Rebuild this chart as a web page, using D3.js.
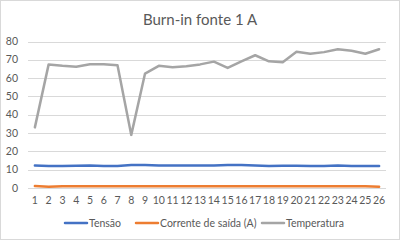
<!DOCTYPE html>
<html>
<head>
<meta charset="utf-8">
<script src="https://cdn.jsdelivr.net/npm/d3@7"></script>
<style>
  body { margin: 0; background: #fff; }
  text { font-family: Lato, "Open Sans", sans-serif; fill: #595959; }
</style>
</head>
<body>
<div id="chart"></div>
<script>
"use strict";

// categories 1..26
var categories = ["1","2","3","4","5","6","7","8","9","10","11","12","13","14","15","16","17","18","19","20","21","22","23","24","25","26"];
var tensao = [12.3,12.0,12.0,12.2,12.3,12.0,12.0,12.5,12.5,12.3,12.3,12.3,12.3,12.3,12.6,12.6,12.3,12.0,12.2,12.2,12.0,12.0,12.3,12.0,12.0,12.0];
var corrente = [1.1,0.7,1.0,1.0,1.0,1.0,1.0,1.0,1.0,1.0,1.0,1.0,1.0,1.0,1.0,1.0,1.0,1.0,1.0,1.0,1.0,1.0,1.0,1.0,1.0,0.7];
var temperatura = [33.1,67.5,66.7,66.2,67.6,67.6,67.0,29.0,62.5,66.7,66.0,66.5,67.5,69.0,65.6,69.2,72.5,69.2,68.7,74.4,73.3,74.2,75.8,75.0,73.3,75.8];
var yTicks = [0,10,20,30,40,50,60,70,80];

var series = [
  { name: "Tensão", values: tensao, color: "#4472C4" },
  { name: "Corrente de saída (A)", values: corrente, color: "#ED7D31" },
  { name: "Temperatura", values: temperatura, color: "#A5A5A5" }
];

var width = 400, height = 240;
var margin = { top: 41.5, right: 14, bottom: 52, left: 28 };

var svg = d3.select("#chart").append("svg")
  .attr("width", width)
  .attr("height", height);

// chart border
svg.append("rect")
  .attr("x", 0.5).attr("y", 0.5)
  .attr("width", width - 1).attr("height", height - 1)
  .attr("fill", "#fff")
  .attr("stroke", "#d9d9d9");

svg.append("text")
  .attr("x", 200).attr("y", 25)
  .attr("text-anchor", "middle")
  .style("font-size", "15px")
  .text("Burn-in fonte 1 A");

var x = d3.scaleBand()
  .domain(categories)
  .range([margin.left, width - margin.right]);

var y = d3.scaleLinear()
  .domain([0, 80])
  .range([height - margin.bottom, margin.top]);

// gridlines
svg.append("g")
  .selectAll("line")
  .data(yTicks)
  .enter().append("line")
  .attr("x1", margin.left)
  .attr("x2", width - margin.right)
  .attr("y1", function(d) { return Math.round(y(d)) + 0.5; })
  .attr("y2", function(d) { return Math.round(y(d)) + 0.5; })
  .attr("stroke", "#d9d9d9")
  .attr("stroke-width", 1);

// y tick labels
svg.append("g")
  .selectAll("text")
  .data(yTicks)
  .enter().append("text")
  .attr("x", margin.left - 10)
  .attr("y", function(d) { return y(d); })
  .attr("dy", "0.35em")
  .attr("text-anchor", "end")
  .style("font-size", "10.5px")
  .text(function(d) { return d; });

// x tick labels
svg.append("g")
  .selectAll("text")
  .data(categories)
  .enter().append("text")
  .attr("x", function(d) { return x(d) + x.bandwidth() / 2; })
  .attr("y", height - margin.bottom + 16)
  .attr("text-anchor", "middle")
  .style("font-size", "10.5px")
  .text(function(d) { return d; });

var line = d3.line()
  .x(function(d, i) { return x(categories[i]) + x.bandwidth() / 2; })
  .y(function(d) { return y(d); });

svg.append("g")
  .selectAll("path")
  .data(series)
  .enter().append("path")
  .attr("d", function(s) { return line(s.values); })
  .attr("fill", "none")
  .attr("stroke", function(s) { return s.color; })
  .attr("stroke-width", 2.5)
  .attr("stroke-linejoin", "round")
  .attr("stroke-linecap", "round");

// legend
var legendX = [65, 136, 262];
var legend = svg.append("g")
  .selectAll("g")
  .data(series)
  .enter().append("g")
  .attr("transform", function(d, i) { return "translate(" + legendX[i] + "," + 223 + ")"; });

legend.append("line")
  .attr("x1", 0).attr("x2", 22)
  .attr("stroke", function(d) { return d.color; })
  .attr("stroke-width", 2.5)
  .attr("stroke-linecap", "round");

legend.append("text")
  .attr("x", 24)
  .attr("dy", "0.35em")
  .style("font-size", "10.5px")
  .text(function(d) { return d.name; });
</script>
</body>
</html>
